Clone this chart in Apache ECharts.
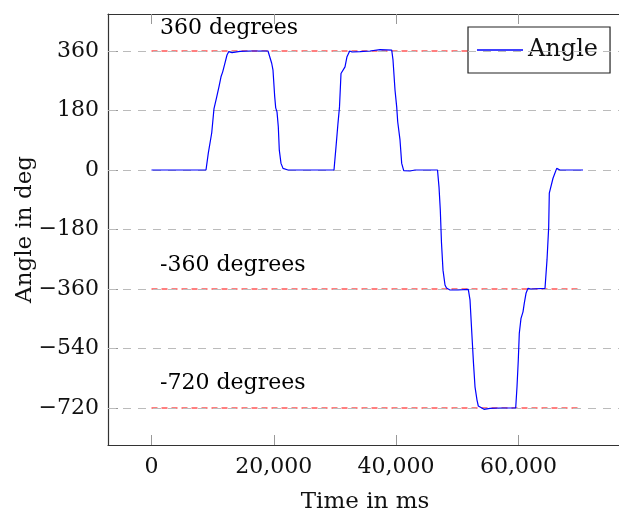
<!DOCTYPE html>
<html>
<head>
<meta charset="utf-8">
<script src="https://cdn.jsdelivr.net/npm/echarts@6/dist/echarts.min.js"></script>
<style>html,body{margin:0;padding:0;background:#fff;overflow:hidden}#c{width:619px;height:514px}</style>
</head>
<body>
<div id="c"></div>
<script>
// ---- data ----
const timeMs = [0, 8912, 9289, 9845, 10221, 10548, 10630, 11038, 11365, 11643, 12020, 12347, 12625, 13164, 14473, 16108, 19051,
  19215, 19656, 19869, 20147, 20311, 20523, 20736, 20900, 21178, 21505, 22322, 29844,
  30172, 30499, 30744, 30990, 31153, 31316, 31644, 31971, 32412, 32788, 34096, 35732, 37367, 39280,
  39493, 39820, 40098, 40262, 40474, 40638, 40916, 41243, 42273, 43091, 46770,
  47015, 47228, 47424, 47670, 47997, 48242, 48814, 50123, 51807,
  52085, 52412, 52657, 52903, 53230, 53442, 53720, 54374, 55355, 56991, 59558,
  59771, 59983, 60147, 60425, 60752, 60965, 61243, 61570, 61815, 62060, 64350,
  64677, 64955, 65053, 65658, 66263, 66803, 70564];
const angleDeg = [0, 0, 51, 112, 186, 188, 218, 252, 282, 297, 324, 348, 358, 355, 359, 360, 360,
  357, 323, 302, 222, 188, 176, 131, 60, 20, 5, 0, 0,
  70, 142, 191, 292, 287, 293, 312, 343, 360, 357, 358, 360, 364, 363,
  333, 242, 191, 146, 142, 91, 20, -2, -3, 0, 0,
  -51, -121, -221, -303, -348, -357, -363, -363, -361,
  -393, -504, -585, -656, -696, -714, -720, -724, -721, -720, -720,
  -656, -575, -494, -449, -429, -403, -373, -358, -363, -360, -358,
  -272, -172, -70, -25, 5, 0, 0];
const xTicks = [0, 20000, 40000, 60000];
const yTicks = [-720, -540, -360, -180, 0, 180, 360];
const refAngles = [360, -360, -720];
const refStart = 0, refEnd = 70000;
const annoX = [1400, 1400, 1400];
const annoY = [430, -287, -644];
const annoText = ['360 degrees', '-360 degrees', '-720 degrees'];

const FONT = 'DejaVu Serif';
const chart = echarts.init(document.getElementById('c'), null, {renderer: 'canvas'});
const gridW = 514;
const xMin = -7114, xMax = xMin + gridW / 0.006115, yMin = -832, yMax = 472;
const fmtX = v => Number(v).toLocaleString('en-US');
const fmtY = v => String(v).replace('-', '\u2212');

const refSeries = refAngles.map(v => ({
  name: 'ref' + v, type: 'line', symbol: 'none', silent: true, z: 3,
  lineStyle: {color: '#ff0000', type: [6, 4], width: 1.2},
  data: [[refStart, v], [refEnd, v]]
}));

chart.setOption({
  animation: false,
  backgroundColor: '#fff',
  grid: {left: 108, top: 14, width: gridW, height: 431, containLabel: false, outerBoundsMode: 'none',
    show: false},
  legend: {
    data: [{name: 'Angle', icon: 'rect'}], left: 468, top: 27, orient: 'horizontal',
    padding: [11, 12, 11, 9], itemWidth: 46, itemHeight: 1.3, itemGap: 5,
    borderColor: '#222', borderWidth: 1.2, backgroundColor: '#fff', borderRadius: 0,
    textStyle: {fontFamily: FONT, fontSize: 24, color: '#111', lineHeight: 23}
  },
  xAxis: [{
    type: 'value', min: xMin, max: xMax,
    name: 'Time in ms', nameLocation: 'middle', nameGap: 46, nameMoveOverlap: false,
    nameTextStyle: {fontFamily: FONT, fontSize: 23, color: '#111'},
    axisLine: {show: true, onZero: false, lineStyle: {color: '#333', width: 1.2}},
    axisTick: {show: true, inside: true, length: 10, customValues: xTicks, lineStyle: {color: '#999'}},
    axisLabel: {customValues: xTicks, formatter: fmtX, fontFamily: FONT, fontSize: 22, color: '#111', margin: 11},
    splitLine: {show: false}
  }, {
    type: 'value', min: xMin, max: xMax, position: 'top',
    axisLine: {show: true, onZero: false, lineStyle: {color: '#333', width: 1.2}},
    axisTick: {show: true, inside: true, length: 10, customValues: xTicks, lineStyle: {color: '#999'}},
    axisLabel: {show: false}, splitLine: {show: false}
  }],
  yAxis: [{
    type: 'value', min: yMin, max: yMax,
    name: 'Angle in deg', nameLocation: 'middle', nameGap: 71, nameRotate: 90, nameMoveOverlap: false,
    nameTextStyle: {fontFamily: FONT, fontSize: 23, color: '#111'},
    axisLine: {show: true, onZero: false, lineStyle: {color: '#333', width: 1.2}},
    axisTick: {show: true, inside: true, length: 10, customValues: yTicks, lineStyle: {color: '#999'}},
    axisLabel: {customValues: yTicks, formatter: fmtY, fontFamily: FONT, fontSize: 22, color: '#111', margin: 9},
    splitLine: {show: false}
  }],
  series: [
    {
      name: 'gridlines', type: 'line', data: [], silent: true, z: 1,
      markLine: {
        silent: true, symbol: 'none', label: {show: false}, animation: false,
        lineStyle: {color: '#bbbbbb', type: [8, 7], width: 1},
        emphasis: {disabled: true},
        data: yTicks.map(v => ({yAxis: v}))
      }
    },
    ...refSeries,
    {
      name: 'Angle', type: 'line', symbol: 'none', showSymbol: false,
      lineStyle: {color: '#0000ff', width: 1.2}, itemStyle: {color: '#0000ff'},
      data: timeMs.map((t, i) => [t, angleDeg[i]]), z: 5
    },
    {
      name: 'annotations', type: 'scatter', symbolSize: 0, silent: true,
      itemStyle: {opacity: 1},
      data: annoX.map((x, i) => [x, annoY[i], annoText[i]]),
      label: {show: true, position: 'right', distance: 0, formatter: p => p.data[2],
        fontFamily: FONT, fontSize: 22, color: '#000', opacity: 1}
    }
  ]
});
</script>
</body>
</html>
